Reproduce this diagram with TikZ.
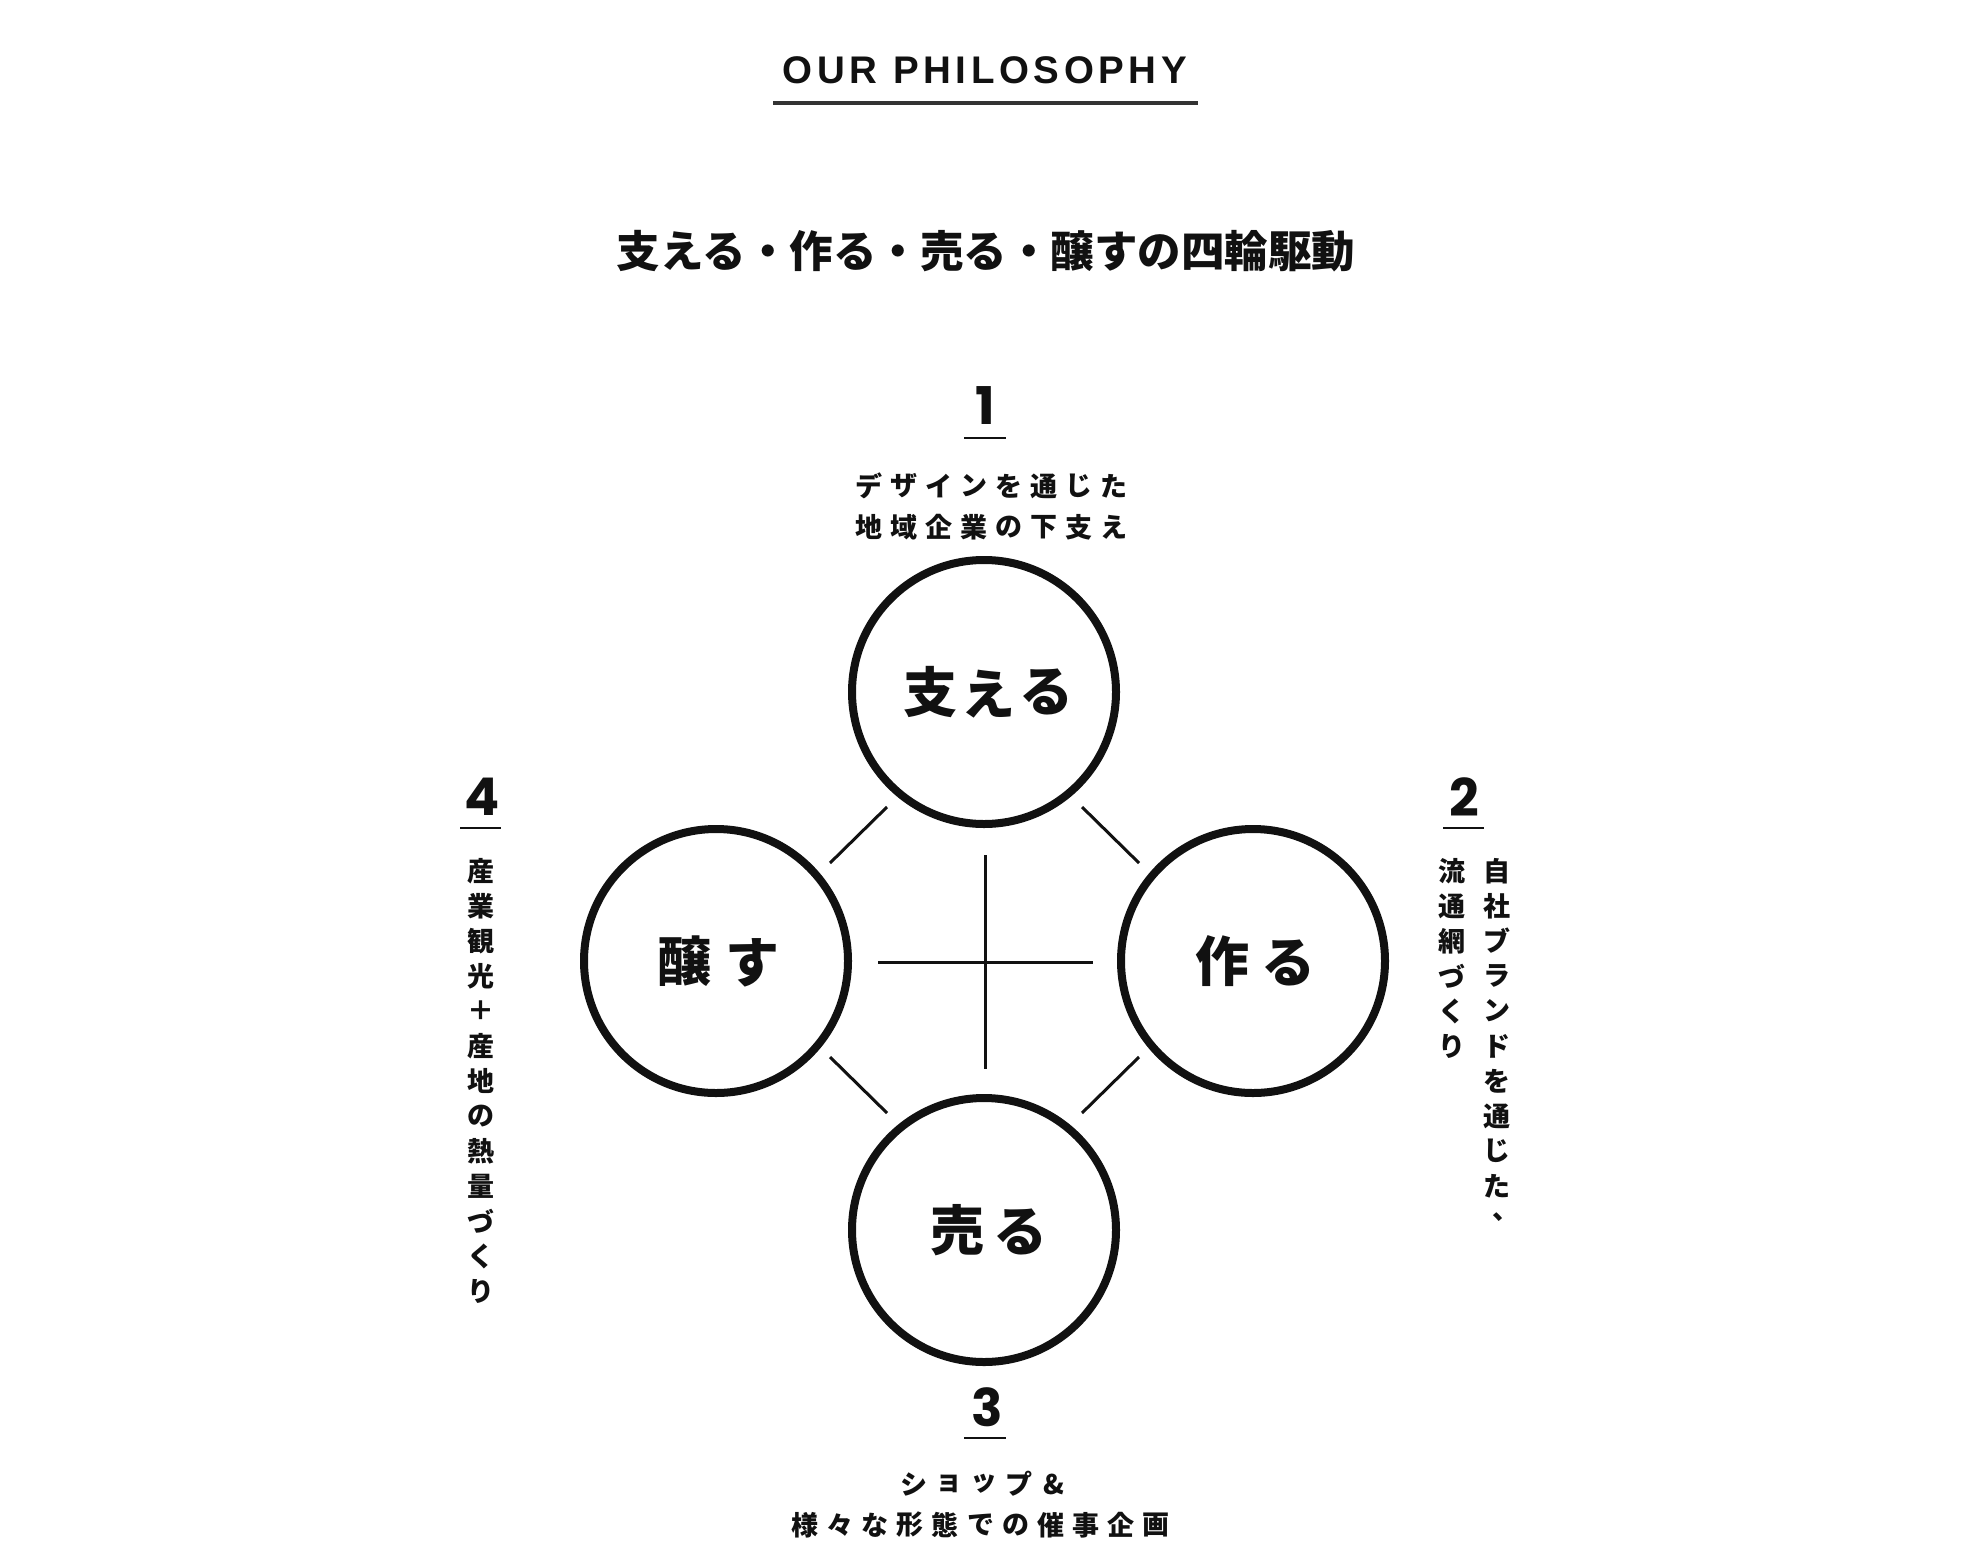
\documentclass[tikz,border=0pt]{standalone}
\usepackage{fontspec}
\setmainfont{Liberation Sans}
\newfontfamily\jp{Noto Sans CJK JP}
\newfontfamily\titlefont{Liberation Sans}[LetterSpace=12.0]
\newfontfamily\numfont{Poppins}
\definecolor{ink}{HTML}{111111}
\definecolor{rule}{HTML}{333333}
\begin{document}
\begin{tikzpicture}[x=1pt,y=-1pt,
  ring/.style={circle,draw=ink,line width=8pt,fill=white,minimum size=264pt,inner sep=0pt},
  bigjp/.style={font=\jp\bfseries\fontsize{54pt}{54pt}\selectfont,text=ink,inner sep=0pt},
  smalljp/.style={font=\jp\bfseries\fontsize{27pt}{27pt}\selectfont,text=ink,inner sep=0pt},
  numlabel/.style={font=\numfont\bfseries\fontsize{52pt}{52pt}\selectfont,text=ink,inner sep=0pt},
  numrule/.style={draw=ink,line width=2.7pt},
  thinline/.style={draw=ink,line width=3pt}]
\useasboundingbox (0,0) rectangle (1978,1566);
\fill[white] (0,0) rectangle (1978,1566);

% title
\node[font=\titlefont\bfseries\fontsize{38.5pt}{38.5pt}\selectfont,text=ink,inner sep=0pt] (title) at (985,70.5) {OUR PHILOSOPHY};
\coordinate (tl) at (773,103);
\coordinate (tr) at (1198,103);
\draw[draw=rule,line width=4pt] (tl) -- (tr);

% heading
\node[font=\jp\bfseries\fontsize{43.5pt}{43.5pt}\selectfont,text=ink,inner sep=0pt] (head) at (986,251) {支える・作る・売る・醸すの四輪駆動};

% circles
\node[ring] (T) at (984,692) {};
\node[ring] (L) at (716,961) {};
\node[ring] (R) at (1253,961) {};
\node[ring] (B) at (984,1230) {};

% circle labels
\node[bigjp] (T1) at (930,692) {支};
\node[bigjp] (T2) at (988,694) {え};
\node[bigjp] (T3) at (1046,692) {る};
\node[bigjp] (L1) at (684,961) {醸};
\node[bigjp] (L2) at (752,963) {す};
\node[bigjp] (R1) at (1222,961) {作};
\node[bigjp] (R2) at (1288,963) {る};
\node[bigjp] (B1) at (957,1230) {売};
\node[bigjp] (B2) at (1020,1232) {る};

% cross
\coordinate (cN) at (985,855);
\coordinate (cS) at (985,1069);
\coordinate (cW) at (878,962);
\coordinate (cE) at (1093,962);
\draw[thinline] (cN) -- (cS);
\draw[thinline] (cW) -- (cE);

% diagonals
\coordinate (d1a) at (830,863);  \coordinate (d1b) at (887,807);
\coordinate (d2a) at (1082,807); \coordinate (d2b) at (1139,863);
\coordinate (d3a) at (830,1057); \coordinate (d3b) at (887,1113);
\coordinate (d4a) at (1139,1057);\coordinate (d4b) at (1082,1113);
\draw[thinline] (d1a) -- (d1b);
\draw[thinline] (d2a) -- (d2b);
\draw[thinline] (d3a) -- (d3b);
\draw[thinline] (d4a) -- (d4b);

% 1
\node[numlabel] (n1) at (985,406) {1};
\coordinate (u1a) at (964,438); \coordinate (u1b) at (1006,438);
\draw[numrule] (u1a) -- (u1b);
\foreach \c [count=\i from 0] in {デ,ザ,イ,ン,を,通,じ,た}
  \node[smalljp] (a\i) at (869+35*\i,486) {\c};
\foreach \c [count=\i from 0] in {地,域,企,業,の,下,支,え}
  \node[smalljp] (b\i) at (869+35*\i,527) {\c};

% 3
\node[numlabel] (n3) at (987,1407) {3};
\coordinate (u3a) at (964,1438); \coordinate (u3b) at (1006,1438);
\draw[numrule] (u3a) -- (u3b);
\foreach \c [count=\i from 0] in {シ,ョ,ッ,プ,\&}
  \node[smalljp] (c\i) at (914+35*\i,1484) {\c};
\foreach \c [count=\i from 0] in {様,々,な,形,態,で,の,催,事,企,画}
  \node[smalljp] (e\i) at (805+35.1*\i,1525) {\c};

% 2
\node[numlabel] (n2) at (1464,797) {2};
\coordinate (u2a) at (1443,828); \coordinate (u2b) at (1484,828);
\draw[numrule] (u2a) -- (u2b);
\foreach \c [count=\i from 0] in {自,社,ブ,ラ,ン,ド,を,通,じ,た}
  \node[smalljp] (r\i) at (1497,871+35*\i) {\c};
\node[smalljp] (rcomma) at (1506,1217) {、};
\foreach \c [count=\i from 0] in {流,通,網,づ,く,り}
  \node[smalljp] (s\i) at (1452,871+35*\i) {\c};

% 4
\node[numlabel] (n4) at (482,797) {4};
\coordinate (u4a) at (460,828); \coordinate (u4b) at (501,828);
\draw[numrule] (u4a) -- (u4b);
\foreach \c [count=\i from 0] in {産,業,観,光,＋,産,地,の,熱,量,づ,く,り}
  \node[smalljp] (v\i) at (481,871+35*\i) {\c};
\end{tikzpicture}
\end{document}
